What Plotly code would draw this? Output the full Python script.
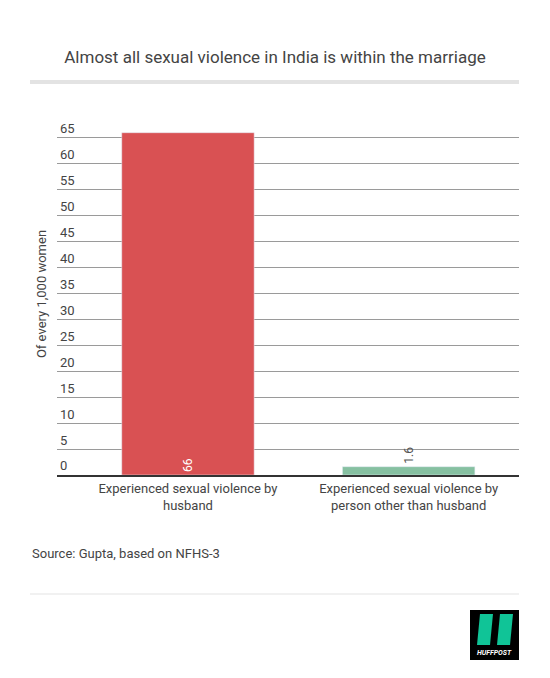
import plotly.graph_objects as go

categories = ["Experienced sexual violence by<br>husband",
              "Experienced sexual violence by<br>person other than husband"]
values = [66, 1.6]
labels = ["66", "1.6"]
colors = ["#d95153", "#86c0a1"]
y_ticks = list(range(0, 70, 5))

fig = go.Figure(go.Bar(
    x=categories, y=values, marker_color=colors, width=0.6,
    text=labels, textangle=-90,
    textposition=["inside", "outside"], insidetextanchor="start",
    textfont=dict(size=12, color=["white", "#555"]),
    cliponaxis=False,
))

# page has an 8px body margin, so work in reference pixels shifted by 8
OFF = 8
W, H = 550 - OFF, 678 - OFF
L, R, T, B = 57 - OFF, 31, 113 - OFF, 203
pw, ph = W - L - R, H - T - B
def px(x): return (x - OFF - L) / pw
def py(y): return (H - B - (y - OFF)) / ph

shapes = [
    dict(type="line", xref="paper", yref="paper", x0=px(30), x1=px(519), y0=py(82), y1=py(82),
         line=dict(color="#e3e3e3", width=4)),
    dict(type="line", xref="paper", yref="paper", x0=px(30), x1=px(519), y0=py(594), y1=py(594),
         line=dict(color="#e3e3e3", width=1)),
    dict(type="rect", xref="paper", yref="paper", x0=px(470), x1=px(519), y0=py(660), y1=py(610),
         fillcolor="black", line_width=0),
    dict(type="path", xref="paper", yref="paper",
         path=f"M {px(477)} {py(645)} L {px(480)} {py(614)} L {px(493)} {py(614)} L {px(490)} {py(645)} Z",
         fillcolor="#10c497", line_width=0),
    dict(type="path", xref="paper", yref="paper",
         path=f"M {px(497)} {py(645)} L {px(500)} {py(614)} L {px(513)} {py(614)} L {px(510)} {py(645)} Z",
         fillcolor="#10c497", line_width=0),
]

annotations = [
    dict(text="Source: Gupta, based on NFHS-3", xref="paper", yref="paper", x=px(30), y=py(553),
         xanchor="left", yanchor="middle", showarrow=False, font=dict(size=13, color="#444")),
    dict(text="<b><i>HUFFPOST</i></b>", xref="paper", yref="paper", x=px(494.5), y=py(653),
         xanchor="center", yanchor="middle", showarrow=False, font=dict(size=7, color="white")),
]

fig.update_layout(
    width=W, height=H, margin=dict(l=L, r=R, t=T, b=B),
    paper_bgcolor="white", plot_bgcolor="white",
    font=dict(family="Roboto", color="#444"),
    title=dict(text="Almost all sexual violence in India is within the marriage",
               x=px(275), xanchor="center", xref="paper", y=1 - (57 - OFF) / H, yanchor="middle",
               font=dict(size=17, color="#444")),
    showlegend=False, shapes=shapes, annotations=annotations,
    bargap=0.4,
)
fig.update_yaxes(range=[0, 69.8], tickvals=y_ticks, ticklabelposition="inside top",
                 showgrid=True, gridcolor="#9a9a9a", gridwidth=1, zeroline=False,
                 tickfont=dict(size=13, color="#444"),
                 title=dict(text="Of every 1,000 women", font=dict(size=13, color="#444"), standoff=10))
fig.update_xaxes(showline=True, linecolor="#333", linewidth=2,
                 tickfont=dict(size=13, color="#444"))

fig.write_html("out.html")
